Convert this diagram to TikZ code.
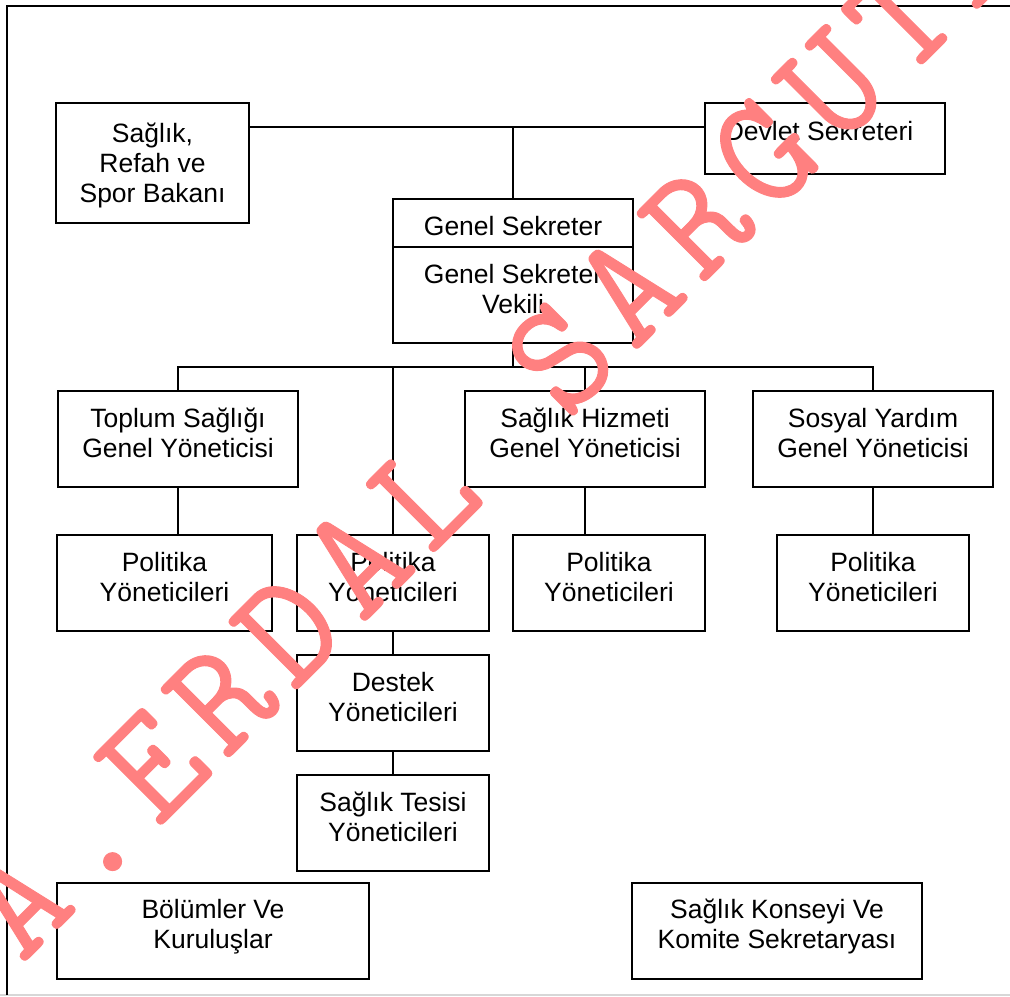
\documentclass[tikz,border=0pt]{standalone}
\usepackage{fontspec}
\setmainfont{Liberation Sans}
\newfontfamily\wmfont[FakeBold=0.6]{Latin Modern Mono}
\definecolor{wmpink}{RGB}{255,128,128}
\definecolor{framegray}{RGB}{215,215,215}
\tikzset{
  box/.style={draw, line width=1pt, inner sep=0pt, outer sep=0pt},
  lbl/.style={anchor=north, align=center, inner sep=0pt, font=\fontsize{13.25pt}{15pt}\selectfont},
  conn/.style={line width=0.9pt},
  wm/.style={text=wmpink, inner sep=0pt, anchor=base, rotate=45, font=\wmfont\fontsize{80pt}{80pt}\selectfont}
}
\begin{document}
\begin{tikzpicture}[x=0.5pt,y=-0.5pt]
\useasboundingbox (0,0) rectangle (1010,996);
% frame
\draw[framegray, line width=0.6pt] (0,995) -- (1010,995);
\draw[line width=0.9pt] (7,995) -- (7,6) -- (1010,6);
% boxes
\node[box, minimum width=96.5pt, minimum height=60pt] (bakan) at (152.5,163) {};
\node[box, minimum width=120pt, minimum height=35.5pt] (devlet) at (825,138.5) {};
\node[box, minimum width=120pt, minimum height=24pt] (gsTop) at (513,223) {};
\node[box, minimum width=120pt, minimum height=48pt] (gsBot) at (513,295) {};
\node[box, minimum width=120pt, minimum height=48pt] (toplum) at (178,439) {};
\node[box, minimum width=120pt, minimum height=48pt] (hizmet) at (585,439) {};
\node[box, minimum width=120pt, minimum height=48pt] (sosyal) at (873,439) {};
\node[box, minimum width=107.5pt, minimum height=48pt] (p1) at (164.5,583) {};
\node[box, minimum width=96pt, minimum height=48pt] (p2) at (393,583) {};
\node[box, minimum width=96pt, minimum height=48pt] (p3) at (609,583) {};
\node[box, minimum width=96pt, minimum height=48pt] (p4) at (873,583) {};
\node[box, minimum width=96pt, minimum height=48pt] (destek) at (393,703) {};
\node[box, minimum width=96pt, minimum height=48pt] (tesis) at (393,823) {};
\node[box, minimum width=156pt, minimum height=48pt] (bolum) at (213,931) {};
\node[box, minimum width=145pt, minimum height=48pt] (konsey) at (777,931) {};
% labels
\node[lbl] (tbakan) at (152.5,123) {Sağlık,\\Refah ve\\Spor Bakanı};
\node[lbl] (tdevlet) at (819,121) {Devlet Sekreteri};
\node[lbl] (tgsTop) at (513,216) {Genel Sekreter};
\node[lbl] (tgsBot) at (513,264) {Genel Sekreter\\Vekili};
\node[lbl] (ttoplum) at (178,408) {Toplum Sağlığı\\Genel Yöneticisi};
\node[lbl] (thizmet) at (585,408) {Sağlık Hizmeti\\Genel Yöneticisi};
\node[lbl] (tsosyal) at (873,408) {Sosyal Yardım\\Genel Yöneticisi};
\node[lbl] (tp1) at (164.5,552) {Politika\\Yöneticileri};
\node[lbl] (tp2) at (393,552) {Politika\\Yöneticileri};
\node[lbl] (tp3) at (609,552) {Politika\\Yöneticileri};
\node[lbl] (tp4) at (873,552) {Politika\\Yöneticileri};
\node[lbl] (tdestek) at (393,672) {Destek\\Yöneticileri};
\node[lbl] (ttesis) at (393,792) {Sağlık Tesisi\\Yöneticileri};
\node[lbl] (tbolum) at (213,899) {Bölümler Ve\\Kuruluşlar};
\node[lbl] (tkonsey) at (777,899) {Sağlık Konseyi Ve\\Komite Sekretaryası};
% connectors
\coordinate (topbus) at (513,127);
\coordinate (bus) at (513,367);
\draw[conn] (bakan.east |- topbus) -- (devlet.west |- topbus);
\draw[conn] (topbus) -- (gsTop.north);
\draw[conn] (gsBot.south) -- (bus);
\draw[conn] (toplum.north) -- (toplum.north |- bus) -- (sosyal.north |- bus) -- (sosyal.north);
\draw[conn] (hizmet.north) -- (hizmet.north |- bus);
\draw[conn] (p2.north) -- (p2.north |- bus);
\draw[conn] (toplum.south) -- (toplum.south |- p1.north);
\draw[conn] (hizmet.south) -- (hizmet.south |- p3.north);
\draw[conn] (sosyal.south) -- (p4.north);
\draw[conn] (p2.south) -- (destek.north);
\draw[conn] (destek.south) -- (tesis.north);
% watermark
\begin{scope}
\clip (0,0) rectangle (1010,996);
\foreach \ch/\i in {A/0,./1,E/2,R/3,D/4,A/5,L/6,S/8,A/9,R/10,G/11,U/12,T/13,A/14,N/15}
  \node[wm] (wm\i) at ({526+(\i-7.5)*68+35},{391-(\i-7.5)*68+35}) {\ch};
\end{scope}
\end{tikzpicture}
\end{document}
